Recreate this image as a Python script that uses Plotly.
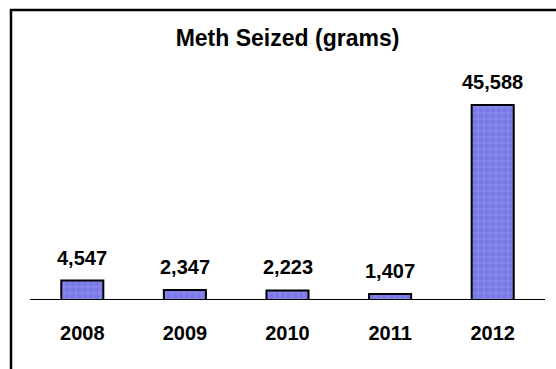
import plotly.graph_objects as go

# Annual methamphetamine seizures
years = ["2008", "2009", "2010", "2011", "2012"]
grams = [4547, 2347, 2223, 1407, 45588]
value_labels = ["4,547", "2,347", "2,223", "1,407", "45,588"]

W, H = 556, 369
ML, MR, MT, MB = 31, 12, 86, 69
PW, PH = W - ML - MR, H - MT - MB
YMAX = 50000

def px_x(px):
    return (px - ML) / PW

def px_y(py):
    return (H - MB - py) / PH

FAMILY = "Arial, Liberation Sans, sans-serif"
label_font = dict(family=FAMILY, size=20, color="#000000")
title_font = dict(family=FAMILY, size=23, color="#000000")

fig = go.Figure()
fig.add_trace(go.Bar(
    x=list(range(len(years))),
    y=grams,
    width=0.41,
    marker=dict(
        color="#7878E6",
        line=dict(color="#000000", width=2),
        pattern=dict(shape="+", fgcolor="#A8A8F4", bgcolor="#7878E6",
                     size=6, solidity=0.28),
    ),
    hoverinfo="skip",
))

# value labels above each bar
for i, (v, lab) in enumerate(zip(grams, value_labels)):
    fig.add_annotation(x=i, y=v, xref="x", yref="y", text="<b>%s</b>" % lab,
                       showarrow=False, yanchor="middle", yshift=23,
                       font=label_font)

# frame: top rule and left rule
fig.add_shape(type="line", xref="paper", yref="paper",
              x0=px_x(10), x1=px_x(W + 5), y0=px_y(10), y1=px_y(10),
              line=dict(color="#000000", width=2.5))
fig.add_shape(type="line", xref="paper", yref="paper",
              x0=px_x(11), x1=px_x(11), y0=px_y(9), y1=px_y(H + 5),
              line=dict(color="#000000", width=2.5))
# baseline
fig.add_shape(type="line", xref="paper", yref="y",
              x0=px_x(30), x1=px_x(545), y0=0, y1=0,
              line=dict(color="#000000", width=2))

fig.update_layout(
    width=W, height=H,
    margin=dict(l=ML, r=MR, t=MT, b=MB, pad=0),
    paper_bgcolor="#FFFFFF", plot_bgcolor="#FFFFFF",
    showlegend=False,
    title=dict(text="<b>Meth Seized (grams)</b>", font=title_font,
               x=287.5 / W, xanchor="center", xref="container",
               y=1 - 38 / H, yanchor="middle", yref="container"),
    xaxis=dict(range=[-0.5, 4.5], showgrid=False,
               showline=False, zeroline=False,
               tickmode="array", tickvals=list(range(len(years))),
               ticktext=["<b>%s</b>" % y for y in years],
               ticks="outside", ticklen=15, tickcolor="rgba(0,0,0,0)",
               tickfont=label_font),
    yaxis=dict(range=[0, YMAX], visible=False, showgrid=False, zeroline=False),
)

fig.write_html("out.html")
